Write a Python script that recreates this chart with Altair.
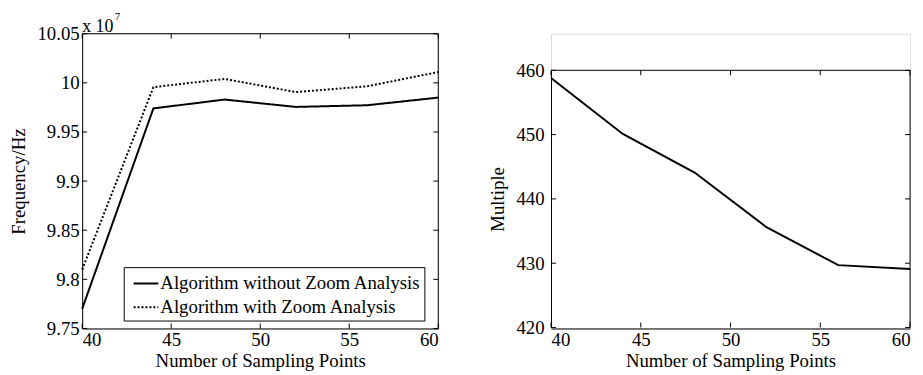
import altair as alt
import pandas as pd

# ---- data ----
sampling_points = [40, 44, 48, 52, 56, 60]
freq_without = [9.770, 9.974, 9.983, 9.9755, 9.9772, 9.985]   # x 10^7 Hz
freq_with = [9.810, 9.9956, 10.004, 9.9906, 9.9965, 10.011]   # x 10^7 Hz
multiple = [458.8, 450.1, 444.1, 435.6, 429.7, 429.1]

series_names = ["Algorithm without Zoom Analysis", "Algorithm with Zoom Analysis"]
x_ticks = [40, 45, 50, 55, 60]
left_y_ticks = [9.75, 9.8, 9.85, 9.9, 9.95, 10.0, 10.05]
right_y_ticks = [420, 430, 440, 450, 460]

FONT = "Liberation Serif"
FS = 19
W1, H = 360, 298
W2 = 363

freq_df = pd.DataFrame({
    "x": sampling_points * 2,
    "y": freq_without + freq_with,
    "series": [series_names[0]] * 6 + [series_names[1]] * 6,
})
mult_df = pd.DataFrame({"x": sampling_points, "y": multiple})
xt_df = pd.DataFrame({"t": x_ticks})
lyt_df = pd.DataFrame({"t": left_y_ticks})
ryt_df = pd.DataFrame({"t": right_y_ticks})


def x_axis():
    return alt.Axis(values=x_ticks, ticks=False, grid=False, labelPadding=2,
                    titlePadding=2, domainColor="black", labelFont=FONT,
                    labelFontSize=FS, labelColor="black", titleFont=FONT,
                    titleFontSize=FS, titleFontWeight="normal", titleColor="black")


def y_axis(vals, fmt, title_pad, lab_pad):
    return alt.Axis(values=vals, format=fmt, ticks=False, grid=False, labelPadding=lab_pad,
                    titlePadding=title_pad, domainColor="black", labelFont=FONT,
                    labelFontSize=FS, labelColor="black", titleFont=FONT,
                    titleFontSize=FS, titleFontWeight="normal", titleColor="black",
                    labelFlush=False)


def frame_layers(xmin, xmax, ymin, ymax, xscale, yscale, ytdf):
    top = alt.Chart(pd.DataFrame({"a": [xmin], "b": [xmax]})).mark_rule(
        color="black", strokeWidth=1).encode(
        x=alt.X("a:Q", scale=xscale), x2="b:Q", y=alt.datum(ymax, scale=yscale))
    right = alt.Chart(pd.DataFrame({"a": [ymin], "b": [ymax]})).mark_rule(
        color="black", strokeWidth=1).encode(
        y=alt.Y("a:Q", scale=yscale), y2="b:Q", x=alt.datum(xmax, scale=xscale))
    tb = alt.Chart(xt_df).mark_rule(color="black", y2Offset=-5).encode(
        x=alt.X("t:Q", scale=xscale), y=alt.datum(ymin, scale=yscale),
        y2=alt.datum(ymin))
    tt = alt.Chart(xt_df).mark_rule(color="black", y2Offset=5).encode(
        x=alt.X("t:Q", scale=xscale), y=alt.datum(ymax, scale=yscale),
        y2=alt.datum(ymax))
    tl = alt.Chart(ytdf).mark_rule(color="black", x2Offset=5).encode(
        y=alt.Y("t:Q", scale=yscale), x=alt.datum(xmin, scale=xscale),
        x2=alt.datum(xmin))
    tr = alt.Chart(ytdf).mark_rule(color="black", x2Offset=-5).encode(
        y=alt.Y("t:Q", scale=yscale), x=alt.datum(xmax, scale=xscale),
        x2=alt.datum(xmax))
    return [top, right, tb, tt, tl, tr]


# ---- left chart ----
lxs = alt.Scale(domain=[40, 60], nice=False, zero=False)
lys = alt.Scale(domain=[9.75, 10.05], nice=False, zero=False)

left_lines = alt.Chart(freq_df).mark_line(color="black", strokeWidth=2).encode(
    x=alt.X("x:Q", scale=lxs, axis=x_axis(), title="Number of Sampling Points"),
    y=alt.Y("y:Q", scale=lys, axis=y_axis(left_y_ticks, ".4~g", 9, 3), title="Frequency/Hz"),
    strokeDash=alt.StrokeDash(
        "series:N",
        scale=alt.Scale(domain=series_names, range=[[1, 0], [2, 2]]),
        sort=series_names,
        legend=alt.Legend(
            title=None, orient="none", legendX=42, legendY=236,
            strokeColor="black", fillColor="white", padding=3,
            symbolType="stroke", symbolSize=625, symbolStrokeWidth=2,
            symbolStrokeColor="black", symbolOffset=6, labelFont=FONT, labelFontSize=FS,
            labelColor="black", labelOffset=1, rowPadding=0, labelLimit=400,
        ),
    ),
    detail="series:N",
)

exp_base = alt.Chart(pd.DataFrame({"s": ["x 10"]})).mark_text(
    font=FONT, fontSize=18, align="left", baseline="alphabetic", color="black").encode(
    text="s:N", x=alt.value(0), y=alt.value(-2))
exp_sup = alt.Chart(pd.DataFrame({"s": ["7"]})).mark_text(
    font=FONT, fontSize=11, align="left", baseline="alphabetic", color="black").encode(
    text="s:N", x=alt.value(33), y=alt.value(-14))

left = alt.layer(
    left_lines,
    *frame_layers(40, 60, 9.75, 10.05, lxs, lys, lyt_df),
    exp_base, exp_sup,
).properties(width=W1, height=H)

# ---- right chart ----
rxs = alt.Scale(domain=[40, 60], nice=False, zero=False)
rys = alt.Scale(domain=[420, 460], nice=False, zero=False, range=[H - 1, 37])

right_line = alt.Chart(mult_df).mark_line(color="black", strokeWidth=2).encode(
    x=alt.X("x:Q", scale=rxs, axis=x_axis(), title="Number of Sampling Points"),
    y=alt.Y("y:Q", scale=rys, axis=y_axis(right_y_ticks, "d", 9, 7), title="Multiple"),
)

right = alt.layer(
    right_line,
    *frame_layers(40, 60, 420, 460, rxs, rys, ryt_df),
).properties(width=W2, height=H)

chart = alt.hconcat(left, right, spacing=45).properties(padding=0).configure_view(
    stroke=None).configure(background="white")

chart.save("out.html", embed_options={"renderer": "svg", "actions": False})
